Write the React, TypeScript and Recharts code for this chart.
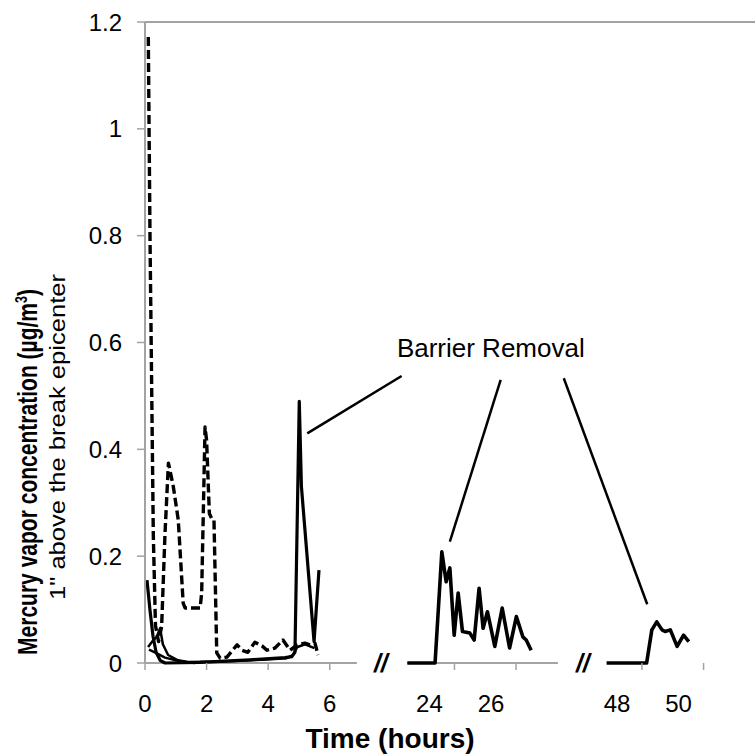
import { ComposedChart, Line, XAxis, YAxis, ReferenceLine, ReferenceDot } from 'recharts'

const FONT = '"Liberation Sans", Arial, Helvetica, sans-serif'
const AXIS_GREY = '#a3a3a3'

// dashed run (hours, µg/m3)
const dashedHours = [0.107, 0.162, 0.27, 0.34, 0.44, 0.54, 0.65, 0.76, 0.81, 0.92, 1.08, 1.24, 1.3, 1.79, 1.84, 1.95, 2.0, 2.09, 2.17, 2.24, 2.33, 2.44, 2.66, 2.99, 3.15, 3.34, 3.57, 3.8, 3.96, 4.22, 4.48, 4.71, 4.94, 5.19, 5.36, 5.52, 5.62]
const dashedValues = [1.172, 0.8, 0.24, 0.07, 0.04, 0.068, 0.243, 0.374, 0.361, 0.33, 0.268, 0.112, 0.103, 0.103, 0.131, 0.442, 0.417, 0.28, 0.27, 0.268, 0.019, 0.009, 0.011, 0.034, 0.024, 0.02, 0.039, 0.032, 0.024, 0.028, 0.043, 0.024, 0.034, 0.037, 0.034, 0.037, 0.015]

// solid runs, first 6 hours
const solidAHours = [0.065, 0.16, 0.26, 0.36, 0.49, 0.65, 1.79, 3.41, 4.55, 4.77, 4.87, 5.01, 5.08, 5.49, 5.65]
const solidAValues = [0.155, 0.1, 0.05, 0.02, 0.005, 0.0, 0.001, 0.006, 0.01, 0.012, 0.02, 0.49, 0.33, 0.04, 0.174]
const solidBHours = [0.1, 0.23, 0.39, 0.49, 0.58, 0.75, 1.07, 1.4, 2.5, 3.8, 4.6, 4.8, 4.95, 5.2, 5.5]
const solidBValues = [0.03, 0.04, 0.05, 0.065, 0.035, 0.015, 0.005, 0.002, 0.003, 0.006, 0.009, 0.015, 0.03, 0.035, 0.028]
const solidCHours = [0.13, 0.32, 0.65, 1.14, 1.62]
const solidCValues = [0.025, 0.02, 0.01, 0.003, 0.0]

// around 24 h
const day1Hours = [22.47, 23.37, 23.59, 23.73, 23.85, 23.99, 24.12, 24.26, 24.5, 24.64, 24.8, 24.93, 25.07, 25.31, 25.55, 25.79, 26.01, 26.22, 26.33, 26.49]
const day1Values = [0, 0, 0.208, 0.152, 0.178, 0.052, 0.131, 0.059, 0.056, 0.043, 0.14, 0.065, 0.096, 0.031, 0.103, 0.028, 0.087, 0.049, 0.043, 0.024]

// around 48 h
const day2Hours = [46.85, 48.15, 48.32, 48.48, 48.65, 48.75, 48.92, 49.14, 49.35, 49.52]
const day2Values = [0, 0, 0.062, 0.077, 0.062, 0.059, 0.062, 0.031, 0.052, 0.04]

const xTickHours = [0, 2, 4, 6, 24, 26, 48, 50]
const yTicks = [0, 0.2, 0.4, 0.6, 0.8, 1, 1.2]

// broken axis: three pieces of the time line
const axisPieces = [[0, 6.88], [22.46, 27.36], [46.86, 51.67]]
const pieceStarts = [0, 10.05, 16.14]
const pieceOrigins = [0, 24, 48]
const breakMarks = [7.66, 14.22]
const AXIS_END = 19.81

// callout lines from "Barrier Removal" (axis units, value)
const callouts = [
  [[8.334, 0.5373], [5.27, 0.43]],
  [[11.55, 0.5298], [9.9, 0.2271]],
  [[13.6, 0.533], [16.31, 0.1099]],
]
const calloutText = { x: 11.23, y: 0.5728 }

function pieceOf(h: number) {
  return h < 12 ? 0 : h < 36 ? 1 : 2
}
function toAxis(h: number) {
  const p = pieceOf(h)
  return pieceStarts[p] + (h - pieceOrigins[p])
}

function series(hours: number[], values: number[]) {
  return hours.map((h, i) => ({ u: toAxis(h), v: values[i] }))
}

const dashed = series(dashedHours, dashedValues)
const solidA = series(solidAHours, solidAValues)
const solidB = series(solidBHours, solidBValues)
const solidC = series(solidCHours, solidCValues)
const day1 = series(day1Hours, day1Values)
const day2 = series(day2Hours, day2Values)
const xTicks = xTickHours.map(toAxis)

function HourTick(props: any) {
  const { x, y, payload } = props
  let idx = 0
  xTicks.forEach((t, i) => {
    if (Math.abs(t - payload.value) < Math.abs(xTicks[idx] - payload.value)) idx = i
  })
  const label = xTickHours[idx]
  const shift = label > 12 ? -25 : 0
  return (
    <text x={x + shift} y={y + 40} textAnchor="middle" fontSize={24} fontFamily={FONT} fill="#000">
      {label}
    </text>
  )
}

function YTitle() {
  return (
    <g fontFamily={FONT} fill="#000">
      <text
        transform="translate(37, 472) rotate(-90)"
        textAnchor="middle"
        fontSize={27}
        fontWeight="bold"
        textLength={366}
        lengthAdjust="spacingAndGlyphs"
      >
        Mercury vapor concentration  (µg/m<tspan dy={-10} fontSize={16}>3</tspan>
        <tspan dy={10}>)</tspan>
      </text>
      <text
        transform="translate(65, 437) rotate(-90)"
        textAnchor="middle"
        fontSize={22}
        textLength={326}
        lengthAdjust="spacingAndGlyphs"
      >
        1" above the break epicenter
      </text>
    </g>
  )
}

function XTitle() {
  return (
    <text x={390} y={748} textAnchor="middle" fontSize={28} fontWeight="bold" fontFamily={FONT} fill="#000">
      Time (hours)
    </text>
  )
}

export default function App() {
  const lineProps = {
    type: 'linear' as const,
    dataKey: 'v',
    stroke: '#000',
    strokeWidth: 3.2,
    strokeLinejoin: 'round' as const,
    dot: false,
    isAnimationActive: false,
  }
  return (
    <div style={{ position: 'absolute', left: 0, top: 0, background: '#fff' }}>
      <ComposedChart width={755} height={756} margin={{ top: 22, right: 0, bottom: 0, left: 0 }}>
        <XAxis
          type="number"
          dataKey="u"
          domain={[0, AXIS_END]}
          ticks={xTicks}
          interval={0}
          allowDataOverflow
          axisLine={false}
          tickLine={{ stroke: AXIS_GREY, strokeWidth: 1.5 }}
          tickSize={7}
          tickMargin={2}
          tick={<HourTick />}
          height={93}
          label={<XTitle />}
        />
        <YAxis
          type="number"
          dataKey="v"
          domain={[0, 1.2]}
          ticks={yTicks}
          interval={0}
          width={145}
          axisLine={{ stroke: AXIS_GREY, strokeWidth: 2 }}
          tickLine={{ stroke: AXIS_GREY, strokeWidth: 1.5 }}
          tickSize={8}
          tickMargin={15}
          tick={{ fontSize: 24, fontFamily: FONT, fill: '#000' }}
          tickFormatter={(v: number) => String(v)}
          label={<YTitle />}
        />
        <ReferenceLine y={1.2} stroke={AXIS_GREY} strokeWidth={2} />
        {axisPieces.map(([a, b]) => (
          <ReferenceLine
            key={a}
            segment={[{ x: toAxis(a), y: 0 }, { x: toAxis(b), y: 0 }]}
            stroke={AXIS_GREY}
            strokeWidth={2}
          />
        ))}
        {breakMarks.map((u) => (
          <ReferenceDot
            key={u}
            x={u}
            y={0}
            r={0}
            ifOverflow="visible"
            shape={(p: any) => (
              <text x={p.cx} y={p.cy + 9} textAnchor="middle" fontSize={25} fontWeight="bold" fontStyle="italic" fontFamily={FONT} fill="#000">
                //
              </text>
            )}
          />
        ))}
        {callouts.map(([s, e], i) => (
          <ReferenceLine
            key={i}
            segment={[{ x: s[0], y: s[1] }, { x: e[0], y: e[1] }]}
            stroke="#000"
            strokeWidth={2.5}
          />
        ))}
        <ReferenceDot
          x={calloutText.x}
          y={calloutText.y}
          r={0}
          ifOverflow="visible"
          shape={(p: any) => (
            <text x={p.cx} y={p.cy} textAnchor="middle" fontSize={26} fontFamily={FONT} fill="#000">
              Barrier Removal
            </text>
          )}
        />
        <Line {...lineProps} data={dashed} strokeDasharray="9 4" strokeWidth={3.4} />
        <Line {...lineProps} data={solidC} strokeWidth={2.5} />
        <Line {...lineProps} data={solidB} strokeWidth={2.5} />
        <Line {...lineProps} data={solidA} />
        <Line {...lineProps} data={day1} strokeWidth={3.6} />
        <Line {...lineProps} data={day2} strokeWidth={3.6} />
      </ComposedChart>
    </div>
  )
}
